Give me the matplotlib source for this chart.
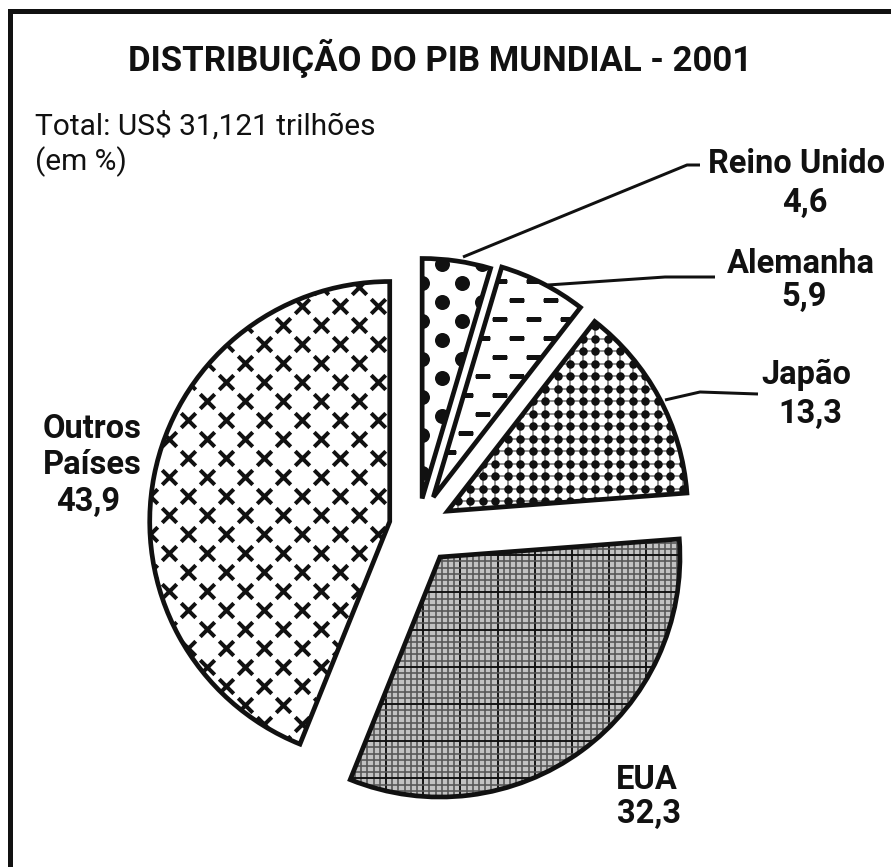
# distribuicao do PIB mundial 2001 - pie chart with print-style textures

import numpy as np
import matplotlib
matplotlib.use('Agg')
import matplotlib.pyplot as plt
from matplotlib import font_manager

W, H = 891, 867

# data
paises = ['Reino Unido', 'Alemanha', 'Japão', 'EUA', 'Outros\nPaíses']
valores = [4.6, 5.9, 13.3, 32.3, 43.9]
rotulos = ['4,6', '5,9', '13,3', '32,3', '43,9']
titulo = 'DISTRIBUIÇÃO DO PIB MUNDIAL - 2001'
subtitulo = 'Total: US$ 31,121 trilhões\n(em %)'

# font close to Tahoma
names = set(f.name for f in font_manager.fontManager.ttflist)
FONT = 'DejaVu Sans'
for nome in ['Roboto', 'Noto Sans']:
    if nome in names:
        FONT = nome
        break
plt.rcParams['font.family'] = [FONT, 'DejaVu Sans']

px = 72 / 100  # pixels -> points


def Y(y):
    return H - y


fig = plt.figure(figsize=(W / 100, H / 100), dpi=100)
ax = fig.add_axes([0, 0, 1, 1])

centro = (418, Y(527))
raio = 240
explode = [0.12 * raio, 0.14 * raio, 0.14 * raio, 0.155 * raio, 0.12 * raio]

wedges, _ = ax.pie(valores, startangle=90, counterclock=False, explode=explode,
                   center=centro, radius=raio, colors=['white'] * 5,
                   wedgeprops=dict(linewidth=0, zorder=1))
ax.pie(valores, startangle=90, counterclock=False, explode=explode,
       center=centro, radius=raio,
       wedgeprops=dict(fill=False, edgecolor='#111111', linewidth=4.7 * px, zorder=5))


def lattice(w, dx, dy, stagger=True):
    # texture grid over wedge bbox
    x0, y0 = w.center[0] - raio, w.center[1] - raio
    xs, ys = [], []
    for j, yy in enumerate(np.arange(y0, y0 + 2 * raio + dy, dy)):
        off = dx / 2 if (stagger and j % 2) else 0
        for xx in np.arange(x0 + off, x0 + 2 * raio + dx, dx):
            xs.append(xx)
            ys.append(yy)
    return np.array(xs), np.array(ys)


def clip(artist, w):
    artist.set_clip_path(w)
    return artist


w_ru, w_al, w_jp, w_us, w_ou = wedges

# Reino Unido: big dots
xs, ys = lattice(w_ru, 40, 19)
clip(ax.scatter(xs, ys, s=(15 * px) ** 2, color='#111111', linewidths=0, zorder=2), w_ru)

# Alemanha: dashes
xs, ys = lattice(w_al, 34, 19)
clip(ax.scatter(xs, ys, s=(15 * px) ** 2, marker='_', color='#111111',
                linewidths=3.2 * px, zorder=2), w_al)

# Japao: dense dots on a light grid
xs, ys = lattice(w_jp, 12.5, 12.5, stagger=False)
for v in np.unique(xs):
    clip(ax.axvline(v, color='#8a8a8a', lw=1.8 * px, zorder=2), w_jp)
for v in np.unique(ys):
    clip(ax.axhline(v, color='#8a8a8a', lw=1.8 * px, zorder=2), w_jp)
clip(ax.scatter(xs, ys, s=(8.5 * px) ** 2, color='#111111', linewidths=0, zorder=3), w_jp)

# EUA: fine grid
w_us.set_facecolor('#c2c2c2')
xs, ys = lattice(w_us, 6.2, 6.2, stagger=False)
for k, v in enumerate(np.unique(xs)):
    clip(ax.axvline(v, color='#111111' if k % 6 == 0 else '#555555',
                    lw=(1.9 if k % 6 == 0 else 1.6) * px, zorder=2), w_us)
for k, v in enumerate(np.unique(ys)):
    clip(ax.axhline(v, color='#111111' if k % 6 == 3 else '#555555',
                    lw=(1.9 if k % 6 == 3 else 1.6) * px, zorder=2), w_us)

# Outros: crosses
xs, ys = lattice(w_ou, 38, 19)
clip(ax.scatter(xs, ys, s=(14.5 * px) ** 2, marker='x', color='#111111',
                linewidths=4 * px, zorder=2), w_ou)

# leader lines
lk = dict(color='#111111', lw=3 * px, solid_capstyle='butt', zorder=6)
ax.plot([463, 687, 700], [Y(257), Y(165), Y(165)], **lk)
ax.plot([548, 665, 715], [Y(285), Y(277), Y(277)], **lk)
ax.plot([665, 700, 758], [Y(400), Y(392), Y(394)], **lk)

# labels
bold = dict(fontsize=23.5, fontweight='bold', color='#111111', ha='center', va='center')
ax.text(797, Y(164), paises[0], **bold)
ax.text(805, Y(203), rotulos[0], **bold)
ax.text(801, Y(264), paises[1], **bold)
ax.text(804, Y(297), rotulos[1], **bold)
ax.text(806, Y(375), paises[2], **bold)
ax.text(810, Y(414), rotulos[2], **bold)
ax.text(647, Y(780), paises[3], **bold)
ax.text(649, Y(814), rotulos[3], **bold)
ax.text(92, Y(447), paises[4], linespacing=1.2, **bold)
ax.text(88, Y(502), rotulos[4], **bold)

ax.text(440, Y(58), titulo, fontsize=25, fontweight='bold', color='#111111',
        ha='center', va='center')
ax.text(35, Y(144), subtitulo, fontsize=21.5, color='#111111', ha='left', va='center',
        linespacing=1.25)

# frame (top and left only)
ax.plot([10, 10, W], [0, Y(11), Y(11)], color='#111111', lw=5 * px,
        solid_joinstyle='miter', zorder=6)

ax.set_xlim(0, W)
ax.set_ylim(0, H)
ax.set_aspect('auto')
ax.set_axis_off()

fig.savefig('out.png', dpi=100)
